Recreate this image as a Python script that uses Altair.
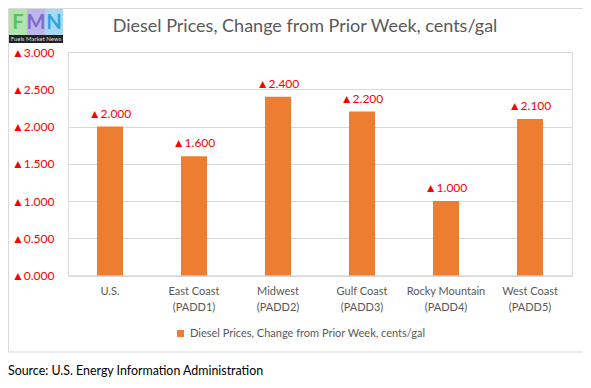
import altair as alt
import pandas as pd

# ---- data ----
regions = ["U.S.", "East Coast|(PADD1)", "Midwest|(PADD2)", "Gulf Coast|(PADD3)",
           "Rocky Mountain|(PADD4)", "West Coast|(PADD5)"]
changes = [2.000, 1.600, 2.400, 2.200, 1.000, 2.100]
series_name = "Diesel Prices, Change from Prior Week, cents/gal"
y_ticks = [0, 0.5, 1.0, 1.5, 2.0, 2.5, 3.0]
title_text = "Diesel Prices, Change from Prior Week, cents/gal"
source_text = "Source: U.S. Energy Information Administration"
logo_letters = ["F", "M", "N"]
logo_bg = ["#B3E2AE", "#BDB6EA", "#A8D8F2"]
logo_fg = ["#5FBF5F", "#7C6CD2", "#2FA3DC"]

FONT = "Lato"
GRAY = "#595959"
RED = "#FF0000"
ORANGE = "#ED7D31"
GRID = "#D9D9D9"

df = pd.DataFrame({"region": regions, "change": changes, "series": series_name})
one = pd.DataFrame({"k": [0]})

x_axis = alt.Axis(labelExpr="split(datum.label, '|')", labelAngle=0,
                  labelColor=GRAY, labelFontSize=11, labelFont=FONT,
                  labelPadding=10, ticks=False, domainColor=GRID,
                  labelLineHeight=16)
y_axis = alt.Axis(values=y_ticks, labelOverlap=False, tickCount=7,
                  labelExpr="'▲' + format(datum.value, '.3f')",
                  labelColor=RED, labelFontSize=12, labelFont=FONT,
                  labelPadding=14, ticks=False, domain=False,
                  gridColor=GRID)
x_scale = alt.Scale(paddingInner=0.69, paddingOuter=0.345)
y_scale = alt.Scale(domain=[0, 3], nice=False)

def x_enc():
    return alt.X("region:N", sort=regions, title=None, scale=x_scale, axis=x_axis)

def y_enc():
    return alt.Y("change:Q", title=None, scale=y_scale, axis=y_axis)

border = alt.Chart(one).mark_rect(fill="transparent", stroke=GRID, strokeWidth=1).encode(
    x=alt.value(-59.5), x2=alt.value(517), y=alt.value(-43.5), y2=alt.value(300))

bars = alt.Chart(df).mark_bar().encode(
    x=x_enc(), y=y_enc(),
    color=alt.Color("series:N", scale=alt.Scale(range=[ORANGE]),
                    legend=alt.Legend(title=None, orient="none", legendX=107, legendY=276,
                                      symbolType="square", symbolSize=49,
                                      symbolStrokeWidth=0, labelFontSize=11,
                                      labelColor=GRAY, labelFont=FONT, padding=0,
                                      labelLimit=400, symbolOffset=0)))

labels = alt.Chart(df).transform_calculate(
    lab="'▲' + format(datum.change, '.3f')"
).mark_text(baseline="bottom", dy=-6, fontSize=12, color=RED, font=FONT).encode(
    x=x_enc(), y=y_enc(), text="lab:N")

title = alt.Chart(one).mark_text(fontSize=18, color=GRAY, font=FONT, baseline="middle").encode(
    x=alt.value(237), y=alt.value(-25), text=alt.value(title_text))

logo_layers = []
for i, (ch, bg, fg) in enumerate(zip(logo_letters, logo_bg, logo_fg)):
    x0 = -59 + i * 18
    logo_layers.append(alt.Chart(one).mark_rect(fill=bg).encode(
        x=alt.value(x0), x2=alt.value(x0 + 18), y=alt.value(-43), y2=alt.value(-17)))
    logo_layers.append(alt.Chart(one).mark_text(
        fontSize=20, fontWeight="bold", color=fg, font=FONT, baseline="middle").encode(
        x=alt.value(x0 + 9), y=alt.value(-29), text=alt.value(ch)))
logo_layers.append(alt.Chart(one).mark_rect(fill="#222222").encode(
    x=alt.value(-59), x2=alt.value(-5), y=alt.value(-17), y2=alt.value(-9)))
logo_layers.append(alt.Chart(one).mark_text(
    fontSize=6, color="#DDDDDD", font=FONT, baseline="middle").encode(
    x=alt.value(-32), y=alt.value(-13), text=alt.value("Fuels Market News")))

source = alt.Chart(one).mark_text(align="left", baseline="middle", fontSize=12.4,
                                  color="#000000", font=FONT).encode(
    x=alt.value(-60), y=alt.value(319), text=alt.value(source_text))

chart = alt.layer(border, bars, labels, title, *logo_layers, source).properties(
    width=504, height=223.5,
    autosize=alt.AutoSizeParams(type="none"),
    padding={"left": 60, "top": 44, "right": 11, "bottom": 104.5},
).configure_view(stroke=None).configure(background="white")

chart.save("out.html", embed_options={"renderer": "svg", "actions": False})
